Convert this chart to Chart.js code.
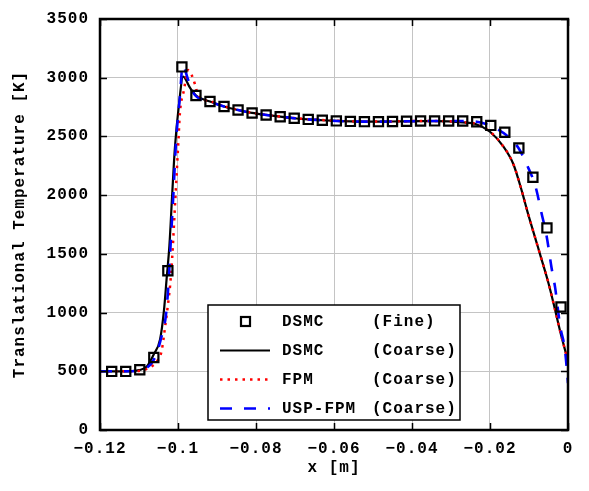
<!DOCTYPE html>
<html>
<head>
<meta charset="utf-8">
<script src="https://cdn.jsdelivr.net/npm/chart.js@4.4.1/dist/chart.umd.min.js"></script>
<style>
  html, body { margin: 0; padding: 0; background: #fff; }
  #chart { display: block; }
</style>
</head>
<body>
<canvas id="chart" width="589" height="491"></canvas>
<script>
/* ===== data ===== */

const xTickValues = [-0.12, -0.1, -0.08, -0.06, -0.04, -0.02, 0];
const xTickLabels = ["\u22120.12", "\u22120.1", "\u22120.08", "\u22120.06", "\u22120.04", "\u22120.02", "0"];
const yTickValues = [0, 500, 1000, 1500, 2000, 2500, 3000, 3500];
const yTickLabels = ["0", "500", "1000", "1500", "2000", "2500", "3000", "3500"];

const legendNames = ["DSMC", "DSMC", "FPM", "USP-FPM"];
const legendCases = ["(Fine)", "(Coarse)", "(Coarse)", "(Coarse)"];

// DSMC (Fine) - squares
const dsmcFineX = [-0.1170, -0.1134, -0.1098, -0.1062, -0.1026, -0.0990, -0.0954, -0.0918, -0.0882, -0.0846,
    -0.0810, -0.0774, -0.0738, -0.0702, -0.0666, -0.0630, -0.0594, -0.0558, -0.0522, -0.0486,
    -0.0450, -0.0414, -0.0378, -0.0342, -0.0306, -0.0270, -0.0234, -0.0198, -0.0162, -0.0126,
    -0.0090, -0.0054, -0.0018];
const dsmcFineT = [499, 499, 513, 618, 1356, 3092, 2849, 2797, 2755, 2725,
    2700, 2683, 2668, 2655, 2645, 2638, 2632, 2628, 2626, 2626,
    2627, 2629, 2631, 2632, 2631, 2631, 2625, 2594, 2536, 2401,
    2152, 1721, 1047];

// DSMC (Coarse) - black solid
const dsmcCoarseX = [-0.1200, -0.1150, -0.1120, -0.1100, -0.1080, -0.1062, -0.1046, -0.1036, -0.1029, -0.1022,
    -0.1015, -0.1008, -0.0997, -0.0987, -0.0969, -0.0952, -0.0918, -0.0882, -0.0846, -0.0810,
    -0.0774, -0.0738, -0.0702, -0.0666, -0.0630, -0.0594, -0.0558, -0.0522, -0.0486, -0.0450,
    -0.0414, -0.0378, -0.0342, -0.0306, -0.0270, -0.0237, -0.0200, -0.0166, -0.0140, -0.0118,
    -0.0104, -0.0080, -0.0072, -0.0050, -0.0035, -0.0020, -0.0005, 0];
const dsmcCoarseT = [500, 500, 502, 510, 540, 645, 770, 1018, 1295, 1572,
    2000, 2401, 2788, 3009, 2913, 2843, 2797, 2755, 2725, 2700,
    2683, 2668, 2655, 2645, 2638, 2632, 2628, 2626, 2626, 2627,
    2629, 2630, 2630, 2628, 2620, 2606, 2540, 2415, 2263, 2030,
    1860, 1590, 1500, 1250, 1050, 840, 650, 590];

// FPM (Coarse) - red dotted
const fpmX = [-0.1200, -0.1120, -0.1080, -0.1050, -0.1042, -0.1033, -0.1027, -0.1020, -0.1015, -0.1007,
    -0.0999, -0.0995, -0.0985, -0.0974, -0.0956, -0.0948, -0.0918, -0.0882, -0.0846, -0.0810,
    -0.0774, -0.0738, -0.0702, -0.0666, -0.0630, -0.0594, -0.0558, -0.0522, -0.0486, -0.0450,
    -0.0414, -0.0378, -0.0342, -0.0306, -0.0270, -0.0237, -0.0200, -0.0166, -0.0140, -0.0118,
    -0.0104, -0.0080, -0.0072, -0.0050, -0.0035, -0.0020, -0.0005, 0];
const fpmT = [500, 500, 521, 604, 673, 881, 1033, 1240, 1461, 1959,
    2457, 2705, 2890, 3065, 2940, 2843, 2800, 2757, 2726, 2701,
    2684, 2669, 2656, 2646, 2639, 2633, 2629, 2627, 2627, 2628,
    2630, 2631, 2631, 2629, 2621, 2607, 2540, 2415, 2263, 2030,
    1860, 1590, 1500, 1250, 1050, 840, 650, 590];

// USP-FPM (Coarse) - blue dashed
const uspX = [-0.1200, -0.1120, -0.1090, -0.1059, -0.1042, -0.1031, -0.1025, -0.1020, -0.1012, -0.1005,
    -0.0995, -0.0988, -0.0974, -0.0961, -0.0918, -0.0882, -0.0846, -0.0810, -0.0774, -0.0738,
    -0.0702, -0.0666, -0.0630, -0.0594, -0.0558, -0.0522, -0.0486, -0.0450, -0.0414, -0.0378,
    -0.0342, -0.0306, -0.0270, -0.0234, -0.0200, -0.0187, -0.0153, -0.0127, -0.0106, -0.0083,
    -0.0068, -0.0055, -0.0042, -0.0033, -0.0020, -0.0008, -0.0002, 0];
const uspT = [500, 500, 515, 618, 798, 977, 1212, 1516, 2000, 2457,
    2843, 3106, 2982, 2871, 2797, 2755, 2725, 2700, 2683, 2668,
    2655, 2645, 2638, 2632, 2628, 2626, 2626, 2627, 2629, 2631,
    2632, 2631, 2631, 2625, 2594, 2573, 2498, 2401, 2263, 2069,
    1848, 1655, 1378, 1212, 881, 687, 480, 400];

/* ===== chart ===== */

const FONT = '"Liberation Mono", "DejaVu Sans Mono", monospace';
const toPoints = (xs, ys) => xs.map((x, i) => ({ x: x, y: ys[i] }));

const lineBase = {
    showLine: true,
    pointRadius: 0,
    fill: false,
    cubicInterpolationMode: "monotone"
};

/* inward ticks + thick frame */
const framePlugin = {
    id: "frame",
    afterDraw(chart) {
        const { ctx, chartArea: a, scales } = chart;
        ctx.save();
        ctx.strokeStyle = "#000";
        ctx.lineWidth = 1.5;
        ctx.beginPath();
        xTickValues.forEach(v => {
            const px = Math.round(scales.x.getPixelForValue(v)) + 0.5;
            ctx.moveTo(px, a.bottom); ctx.lineTo(px, a.bottom - 7);
            ctx.moveTo(px, a.top); ctx.lineTo(px, a.top + 7);
        });
        yTickValues.forEach(v => {
            const py = Math.round(scales.y.getPixelForValue(v)) + 0.5;
            ctx.moveTo(a.left, py); ctx.lineTo(a.left + 7, py);
            ctx.moveTo(a.right, py); ctx.lineTo(a.right - 7, py);
        });
        ctx.stroke();
        ctx.lineWidth = 2.5;
        ctx.strokeRect(a.left, a.top, a.right - a.left, a.bottom - a.top);
        ctx.restore();
    }
};

/* legend box inside the plot */
const legendPlugin = {
    id: "boxLegend",
    afterDraw(chart) {
        const ctx = chart.ctx;
        const box = { left: 208, top: 305, width: 252, height: 115 };
        const rowY = [321.5, 350.5, 379.5, 408.5];
        // dataset index for each legend row
        const rowSet = [0, 3, 2, 1];
        ctx.save();
        ctx.fillStyle = "#fff";
        ctx.fillRect(box.left, box.top, box.width, box.height);
        ctx.strokeStyle = "#000";
        ctx.lineWidth = 1.5;
        ctx.strokeRect(box.left, box.top, box.width, box.height);

        rowY.forEach((y, i) => {
            const ds = chart.data.datasets[rowSet[i]];
            ctx.save();
            if (i === 0) {
                ctx.strokeStyle = "#000";
                ctx.lineWidth = 2.2;
                ctx.strokeRect(241, y - 4.5, 9, 9);
            } else {
                ctx.strokeStyle = ds.borderColor;
                ctx.lineWidth = ds.borderWidth;
                ctx.setLineDash(ds.borderDash || []);
                ctx.beginPath();
                ctx.moveTo(220, y);
                ctx.lineTo(270, y);
                ctx.stroke();
            }
            ctx.restore();
            ctx.fillStyle = "#000";
            ctx.font = "bold 16px " + FONT;
            ctx.letterSpacing = "1px";
            ctx.textBaseline = "middle";
            ctx.textAlign = "left";
            ctx.fillText(legendNames[i], 282, y);
            ctx.fillText(legendCases[i], 372, y);
        });
        ctx.restore();
    }
};

const spacingPlugin = {
    id: "spacing",
    beforeDraw(chart) { chart.ctx.letterSpacing = "1px"; }
};

new Chart(document.getElementById("chart"), {
    type: "scatter",
    data: {
        datasets: [
            {
                label: "DSMC (Fine)",
                data: toPoints(dsmcFineX, dsmcFineT),
                showLine: false,
                pointStyle: "rect",
                pointRadius: 6.5,
                pointBorderWidth: 2.2,
                pointBorderColor: "#000",
                pointBackgroundColor: "rgba(0,0,0,0)"
            },
            {
                ...lineBase,
                label: "USP-FPM (Coarse)",
                data: toPoints(uspX, uspT),
                borderColor: "#0000ff",
                borderWidth: 2.6,
                borderDash: [12, 12]
            },
            {
                ...lineBase,
                label: "FPM (Coarse)",
                data: toPoints(fpmX, fpmT),
                borderColor: "#ff0000",
                borderWidth: 2.5,
                borderDash: [2.5, 5]
            },
            {
                ...lineBase,
                label: "DSMC (Coarse)",
                data: toPoints(dsmcCoarseX, dsmcCoarseT),
                borderColor: "#000",
                borderWidth: 2.2
            }
        ]
    },
    options: {
        responsive: false,
        animation: false,
        devicePixelRatio: 1,
        layout: { padding: { left: 6, right: 21, top: 8, bottom: 4 } },
        plugins: {
            legend: { display: false },
            tooltip: { enabled: false }
        },
        scales: {
            x: {
                type: "linear",
                min: -0.12,
                max: 0,
                afterBuildTicks: s => { s.ticks = xTickValues.map(v => ({ value: v })); },
                afterFit: s => { s.height = 57; },
                grid: { color: "#c4c4c4", lineWidth: 1, drawTicks: false },
                border: { display: false },
                ticks: {
                    padding: 11,
                    color: "#000",
                    maxRotation: 0,
                    autoSkip: false,
                    font: { family: FONT, size: 16, weight: "bold", lineHeight: 1 },
                    callback: (v, i) => xTickLabels[i]
                },
                title: {
                    display: true,
                    text: "x [m]",
                    color: "#000",
                    padding: { top: 0, bottom: 9 },
                    font: { family: FONT, size: 16, weight: "bold" }
                }
            },
            y: {
                type: "linear",
                min: 0,
                max: 3500,
                afterBuildTicks: s => { s.ticks = yTickValues.map(v => ({ value: v })); },
                afterFit: s => { s.width = 94; },
                grid: { color: "#c4c4c4", lineWidth: 1, drawTicks: false },
                border: { display: false },
                ticks: {
                    padding: 11,
                    color: "#000",
                    autoSkip: false,
                    font: { family: FONT, size: 16, weight: "bold", lineHeight: 1 },
                    callback: (v, i) => yTickLabels[i]
                },
                title: {
                    display: true,
                    text: "Translational Temperature [K]",
                    color: "#000",
                    padding: { top: 4, bottom: 0 },
                    font: { family: FONT, size: 16, weight: "bold" }
                }
            }
        }
    },
    plugins: [spacingPlugin, framePlugin, legendPlugin]
});
</script>
</body>
</html>
